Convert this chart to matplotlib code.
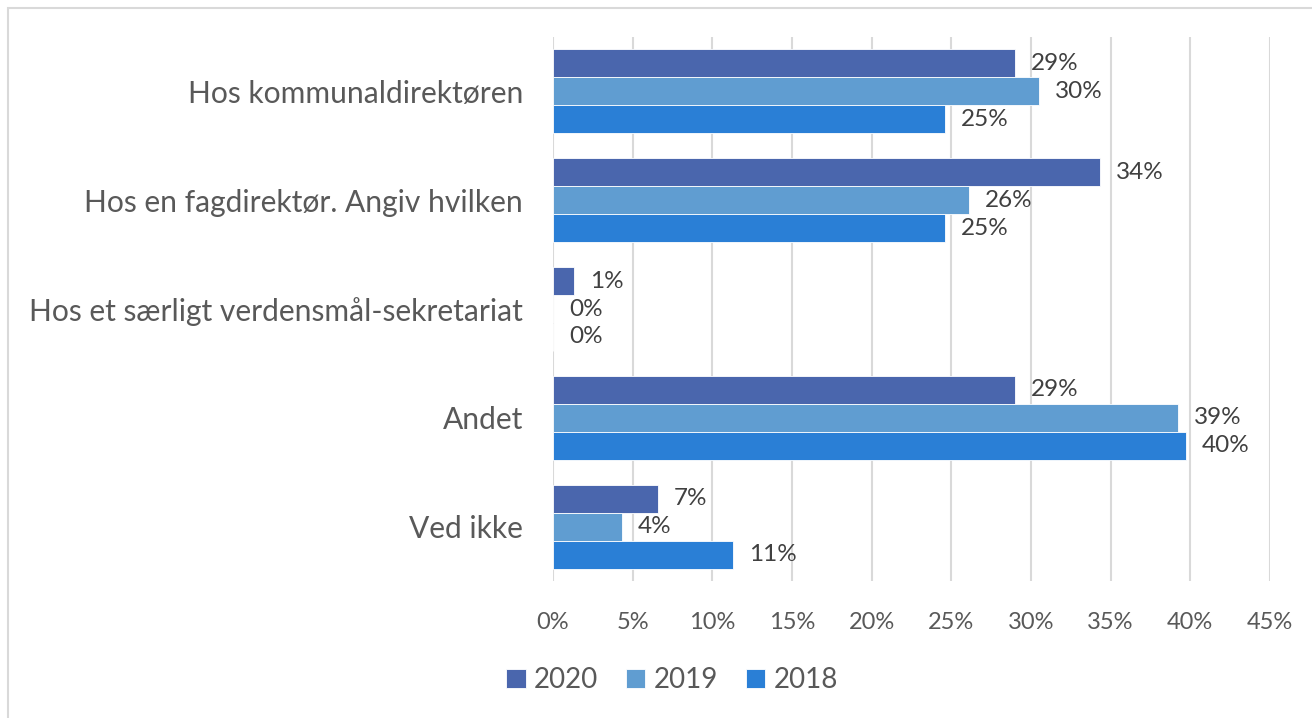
import matplotlib
matplotlib.use("Agg")
import matplotlib.pyplot as plt
from matplotlib.patches import Rectangle
import numpy as np

categories = ["Hos kommunaldirektøren", "Hos en fagdirektør. Angiv hvilken",
              "Hos et særligt verdensmål-sekretariat", "Andet", "Ved ikke"]
series_names = ["2020", "2019", "2018"]
values_2020 = [29.0, 34.3, 1.3, 29.0, 6.6]
values_2019 = [30.5, 26.1, 0.0, 39.2, 4.3]
values_2018 = [24.6, 24.6, 0.0, 39.7, 11.3]
labels_2020 = ["29%", "34%", "1%", "29%", "7%"]
labels_2019 = ["30%", "26%", "0%", "39%", "4%"]
labels_2018 = ["25%", "25%", "0%", "40%", "11%"]
xticks = [0, 5, 10, 15, 20, 25, 30, 35, 40, 45]

colors = ["#4a66ad", "#609dd1", "#2a7fd6"]
FONT = "Lato"
plt.rcParams['font.family'] = [FONT, 'DejaVu Sans']

fig = plt.figure(figsize=(13.12, 7.18), dpi=100)
ax = fig.add_axes([553/1312, 1-581/718, (1270-553)/1312, (581-37)/718])

series = [values_2020, values_2019, values_2018]
labels = [labels_2020, labels_2019, labels_2018]
h = 0.257
y = np.arange(len(categories))
for i, (vals, labs, col) in enumerate(zip(series, labels, colors)):
    pos = y + (i - 1) * h
    ax.barh(pos, vals, height=h, color=col, edgecolor="white", linewidth=0.6,
            label=series_names[i], zorder=3)
    for p, v, l in zip(pos, vals, labs):
        ax.annotate(l, (v, p), xytext=(16, 0), textcoords="offset pixels",
                    ha="left", va="center", fontsize=17.5, color="#404040")

ax.set_xlim(0, 45)
ax.set_ylim(len(categories) - 0.5, -0.5)
ax.set_xticks(xticks)
ax.set_xticklabels([f"{t}%" for t in xticks], fontsize=17, color="#595959")
ax.set_yticks(y)
ax.set_yticklabels(categories, fontsize=21.6, color="#595959")
ax.tick_params(axis="both", length=0)
ax.tick_params(axis="y", pad=21.5)
ax.tick_params(axis="x", pad=22)
ax.grid(axis="x", color="#d9d9d9", linewidth=1.5, zorder=0)
for s in ax.spines.values():
    s.set_visible(False)

leg = fig.legend(loc="center", bbox_to_anchor=(672/1312, 1-680/718), ncol=3,
                 frameon=False, fontsize=20, handlelength=0.7, handleheight=0.7,
                 handletextpad=0.3, columnspacing=1.0, labelcolor="#595959")

fig.add_artist(Rectangle((8/1312, -0.05), 1.2, 1-8/718 + 0.05, transform=fig.transFigure,
                         fill=False, edgecolor="#d9d9d9", linewidth=1.5))

fig.savefig("out.png", dpi=100)
